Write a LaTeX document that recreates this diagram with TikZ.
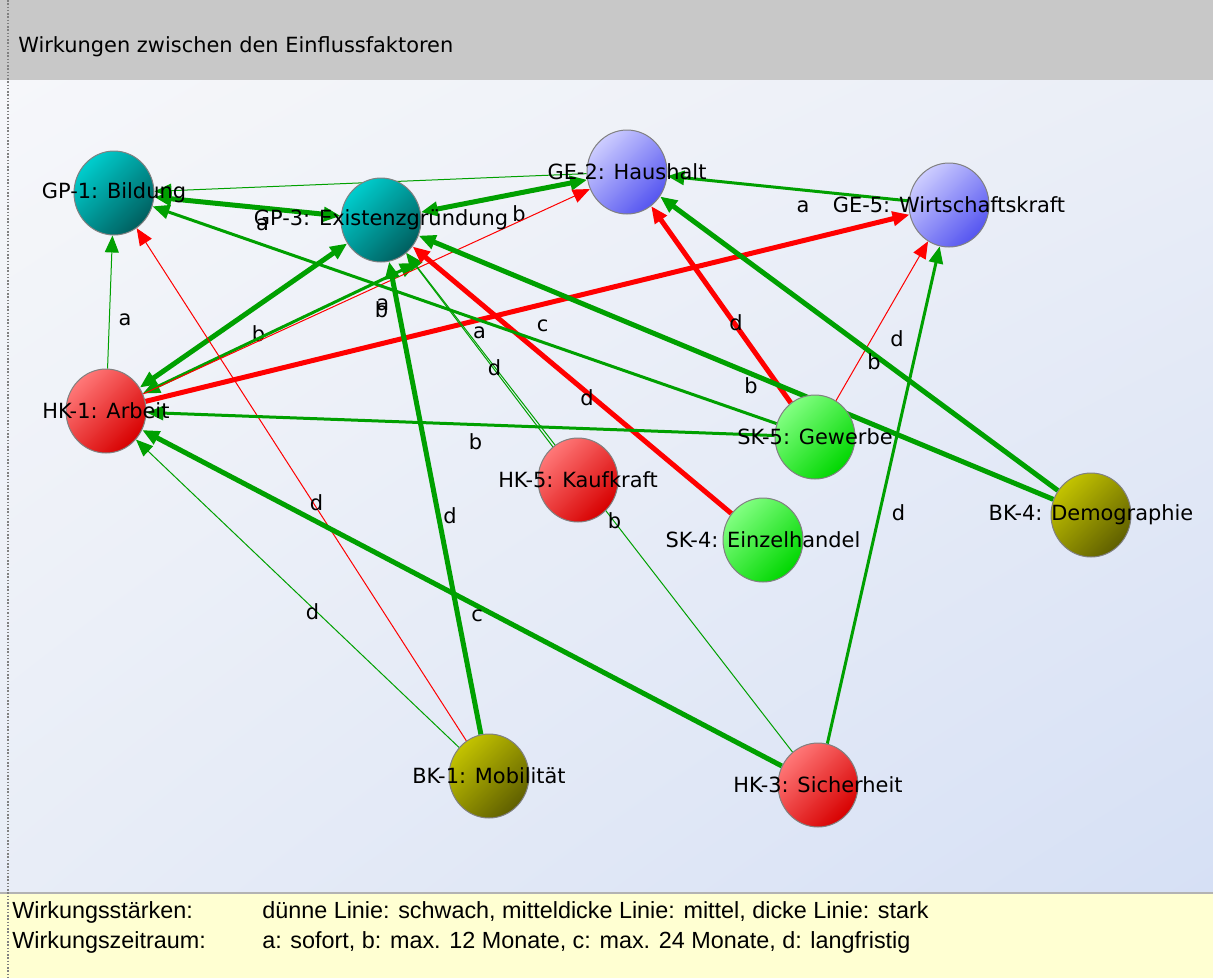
\documentclass[tikz,border=0pt]{standalone}
\usepackage{fontspec}
\setmainfont{DejaVu Sans}
\newfontfamily\legendfont{Liberation Sans}
\usetikzlibrary{arrows.meta, shapes.geometric, shadings}
\pgfdeclarelayer{bg}
\pgfdeclarelayer{edges}
\pgfsetlayers{bg,edges,main}
\definecolor{edgegreen}{RGB}{0,160,0}
\definecolor{edgered}{RGB}{255,0,0}
\definecolor{rimgray}{RGB}{128,128,128}
\definecolor{barbg}{RGB}{200,200,200}
\definecolor{legendbg}{RGB}{255,255,210}
\definecolor{panelul}{RGB}{246,247,250}
\definecolor{panelur}{RGB}{234,238,247}
\definecolor{panelll}{RGB}{232,237,247}
\definecolor{panellr}{RGB}{214,224,245}
\definecolor{tealhi}{RGB}{0,205,205}
\definecolor{tealdk}{RGB}{0,95,95}
\definecolor{bluehi}{RGB}{205,205,255}
\definecolor{bluedk}{RGB}{85,85,240}
\definecolor{redhi}{RGB}{255,120,120}
\definecolor{reddk}{RGB}{215,0,0}
\definecolor{greenhi}{RGB}{130,255,130}
\definecolor{greendk}{RGB}{0,215,0}
\definecolor{olivehi}{RGB}{195,195,0}
\definecolor{olivedk}{RGB}{95,95,0}
\tikzset{
  factor/.style 2 args={
    ellipse,
    draw=rimgray,
    line width=0.02cm,
    minimum width=1.6cm,
    minimum height=1.68cm,
    inner sep=0pt,
    top color=#1,
    bottom color=#2,
    shading angle=45
  },
  factorname/.style={
    font=\fontsize{11.9}{14}\selectfont,
    inner sep=0pt
  },
  weak/.style={line width=0.02cm},
  middle/.style={line width=0.06cm},
  strong/.style={line width=0.1cm},
  gline/.style={draw=edgegreen},
  rline/.style={draw=edgered},
  arrow/.style={-{Triangle[length=0.34cm, width=0.28cm]}},
  twoway/.style={{Triangle[length=0.34cm, width=0.28cm]}-{Triangle[length=0.34cm, width=0.28cm]}},
  tag/.style={
    pos=0.5,
    xshift=0.3cm,
    yshift=-0.36cm,
    inner sep=0pt,
    font=\fontsize{11.9}{14}\selectfont
  },
  legend/.style={
    anchor=west,
    inner sep=0pt,
    font=\legendfont\fontsize{13.3}{15}\selectfont
  }
}
\begin{document}
\begin{tikzpicture}[x=0.02cm, y=-0.02cm]
  \useasboundingbox (0,0) rectangle (1213,978);
  \begin{pgfonlayer}{bg}
    \fill[barbg] (0,0) rectangle (1213,80);
    \shade[upper left=panelul, upper right=panelur,
           lower left=panelll, lower right=panellr]
      (0,80) rectangle (1213,893);
    \fill[legendbg] (0,893) rectangle (1213,978);
    \draw[rimgray!60, line width=0.04cm] (0,893) -- (1213,893);
    \draw[rimgray, densely dotted, line width=0.03cm] (8,0) -- (8,978);
  \end{pgfonlayer}

  \node[factorname, anchor=west] (title) at (18,47) {Wirkungen zwischen den Einflussfaktoren};

  \node[factor={tealhi}{tealdk}, label={[factorname]center:{GP-1: Bildung}}] (gp1) at (114,193) {};
  \node[factor={tealhi}{tealdk}, label={[factorname]center:{GP-3: Existenzgründung}}] (gp3) at (381,220) {};
  \node[factor={bluehi}{bluedk}, label={[factorname]center:{GE-2: Haushalt}}] (ge2) at (627,172) {};
  \node[factor={bluehi}{bluedk}, label={[factorname]center:{GE-5: Wirtschaftskraft}}] (ge5) at (949,205) {};
  \node[factor={redhi}{reddk}, label={[factorname]center:{HK-1: Arbeit}}] (hk1) at (106,411) {};
  \node[factor={greenhi}{greendk}, label={[factorname]center:{SK-5: Gewerbe}}] (sk5) at (815,437) {};
  \node[factor={redhi}{reddk}, label={[factorname]center:{HK-5: Kaufkraft}}] (hk5) at (578,480) {};
  \node[factor={greenhi}{greendk}, label={[factorname]center:{SK-4: Einzelhandel}}] (sk4) at (763,540) {};
  \node[factor={olivehi}{olivedk}, label={[factorname]center:{BK-4: Demographie}}] (bk4) at (1091,515) {};
  \node[factor={olivehi}{olivedk}, label={[factorname]center:{BK-1: Mobilität}}] (bk1) at (489,776) {};
  \node[factor={redhi}{reddk}, label={[factorname]center:{HK-3: Sicherheit}}] (hk3) at (818,785) {};

  \coordinate (hk1end) at (417,263);

  \begin{pgfonlayer}{edges}
    \draw[gline, weak, arrow] (hk1) -- node[tag]{a} (gp1);
    \draw[gline, weak, arrow] (ge2) -- (gp1);
    \draw[gline, strong, twoway] (gp3) -- node[tag]{a} (gp1);
    \draw[gline, strong, twoway] (gp3) -- node[tag]{b} (ge2);
    \draw[gline, strong, twoway] (hk1) -- node[tag]{b} (gp3);
    \draw[gline, middle, twoway] (hk1) -- node[tag, pos=0.82]{a} (hk1end);
    \draw[rline, weak, arrow] (hk1) -- node[tag]{b} (ge2);
    \draw[rline, strong, arrow] (hk1) -- node[tag]{c} (ge5);
    \draw[rline, weak, arrow] (bk1) -- node[tag]{d} (gp1);
    \draw[gline, weak, arrow] (bk1) -- node[tag]{d} (hk1);
    \draw[gline, strong, arrow] (bk1) -- node[tag]{d} (gp3);
    \draw[gline, strong, arrow] (hk3) -- node[tag]{c} (hk1);
    \draw[gline, weak, arrow] (hk3) -- node[tag]{b} (gp3);
    \draw[gline, middle, arrow] (hk3) -- node[tag]{d} (ge5);
    \draw[gline, weak, arrow] (hk5) -- node[tag]{d} (gp3);
    \draw[rline, strong, arrow] (sk4) -- node[tag]{d} (gp3);
    \draw[gline, middle, arrow] (sk5) -- node[tag]{b} (hk1);
    \draw[gline, middle, arrow] (sk5) -- node[tag]{a} (gp1);
    \draw[rline, strong, arrow] (sk5) -- node[tag]{d} (ge2);
    \draw[rline, weak, arrow] (sk5) -- node[tag]{d} (ge5);
    \draw[gline, middle, arrow] (ge5) -- node[tag]{a} (ge2);
    \draw[gline, strong, arrow] (bk4) -- node[tag]{b} (ge2);
    \draw[gline, strong, arrow] (bk4) -- node[tag]{b} (gp3);
  \end{pgfonlayer}

  \node[legend] (lg1) at (12,912) {Wirkungsstärken:};
  \node[legend] (lg1v) at (262,912) {dünne Linie: schwach, mitteldicke Linie: mittel, dicke Linie: stark};
  \node[legend] (lg2) at (12,942) {Wirkungszeitraum:};
  \node[legend] (lg2v) at (262,942) {a: sofort, b: max. 12 Monate, c: max. 24 Monate, d: langfristig};
\end{tikzpicture}
\end{document}
